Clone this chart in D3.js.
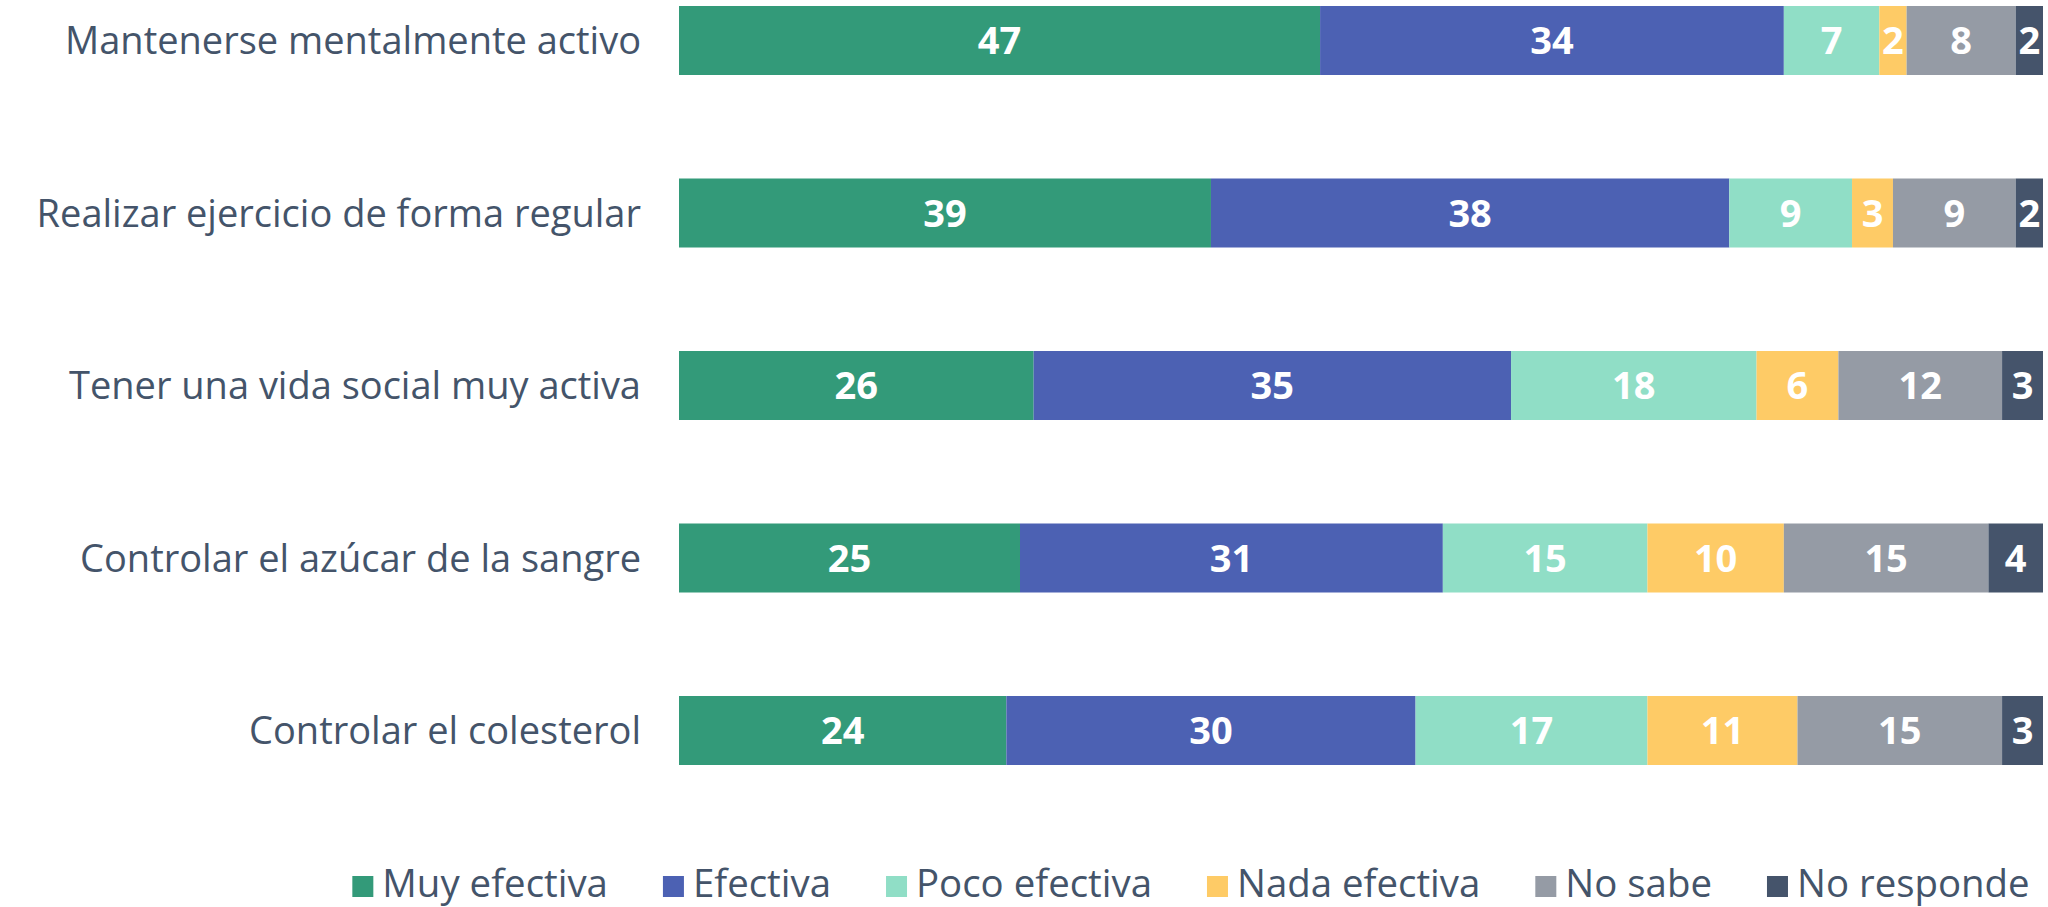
<!DOCTYPE html>
<html>
<head>
<meta charset="utf-8">
<script src="https://cdn.jsdelivr.net/npm/d3@7"></script>
<style>
  html, body { margin: 0; padding: 0; background: #fff; }
  svg { display: block; }
</style>
</head>
<body>
<svg id="chart" width="2048" height="907"></svg>
<script>
// categories, top to bottom
var categories = [
    "Mantenerse mentalmente activo",
    "Realizar ejercicio de forma regular",
    "Tener una vida social muy activa",
    "Controlar el azúcar de la sangre",
    "Controlar el colesterol"
];

var seriesNames = ["Muy efectiva", "Efectiva", "Poco efectiva", "Nada efectiva", "No sabe", "No responde"];

var muyEfectiva  = [47, 39, 26, 25, 24];
var efectiva     = [34, 38, 35, 31, 30];
var pocoEfectiva = [7, 9, 18, 15, 17];
var nadaEfectiva = [2, 3, 6, 10, 11];
var noSabe       = [8, 9, 12, 15, 15];
var noResponde   = [2, 2, 3, 4, 3];

var colors = ["#339a79", "#4c61b3", "#90dec6", "#fecb66", "#959ba5", "#45546b"];
var textColor = "#44546a";

// build rows for d3.stack
var seriesValues = [muyEfectiva, efectiva, pocoEfectiva, nadaEfectiva, noSabe, noResponde];
var rows = categories.map(function (c, i) {
    var row = { category: c };
    seriesNames.forEach(function (s, j) { row[s] = seriesValues[j][i]; });
    return row;
});

var stacked = d3.stack().keys(seriesNames)(rows);

var svg = d3.select("#chart");

var x = d3.scaleLinear().domain([0, 100]).range([679, 2043]);

var y = d3.scaleBand()
    .domain(categories)
    .range([-45.75, 816.75])
    .paddingInner(0.6)
    .paddingOuter(0.3);

var color = d3.scaleOrdinal().domain(seriesNames).range(colors);

var labelFont = "'Open Sans', sans-serif";

// bars
var layers = svg.append("g")
    .selectAll("g")
    .data(stacked)
    .join("g")
    .attr("fill", function (d) { return color(d.key); });

layers.selectAll("rect")
    .data(function (d) { return d; })
    .join("rect")
    .attr("x", function (d) { return x(d[0]); })
    .attr("y", function (d) { return y(d.data.category); })
    .attr("width", function (d) { return x(d[1]) - x(d[0]); })
    .attr("height", y.bandwidth());

// value labels
layers.selectAll("text")
    .data(function (d) { return d; })
    .join("text")
    .attr("x", function (d) { return (x(d[0]) + x(d[1])) / 2; })
    .attr("y", function (d) { return y(d.data.category) + y.bandwidth() / 2 + 13.5; })
    .attr("text-anchor", "middle")
    .attr("font-family", labelFont)
    .attr("font-weight", "bold")
    .attr("font-size", "38px")
    .attr("fill", "#ffffff")
    .text(function (d) { return d[1] - d[0]; });

// category labels
svg.append("g")
    .selectAll("text")
    .data(categories)
    .join("text")
    .attr("x", 641)
    .attr("y", function (d) { return y(d) + y.bandwidth() / 2 + 13.5; })
    .attr("text-anchor", "end")
    .attr("font-family", labelFont)
    .attr("font-size", "38px")
    .attr("fill", textColor)
    .text(function (d) { return d; });

// legend
var legend = svg.append("g");
var items = legend.selectAll("g")
    .data(seriesNames)
    .join("g");

items.append("rect")
    .attr("x", 0)
    .attr("y", 876)
    .attr("width", 21)
    .attr("height", 21)
    .attr("fill", function (d) { return color(d); });

items.append("text")
    .attr("x", 30)
    .attr("y", 897)
    .attr("font-family", labelFont)
    .attr("font-size", "38.4px")
    .attr("fill", textColor)
    .text(function (d) { return d; });

var offset = 0;
items.each(function () {
    var g = d3.select(this);
    g.attr("transform", "translate(" + offset + ",0)");
    offset += 30 + g.select("text").node().getComputedTextLength() + 55;
});
var legendWidth = offset - 55;
legend.attr("transform", "translate(" + (1191 - legendWidth / 2) + ",0)");
</script>
</body>
</html>
